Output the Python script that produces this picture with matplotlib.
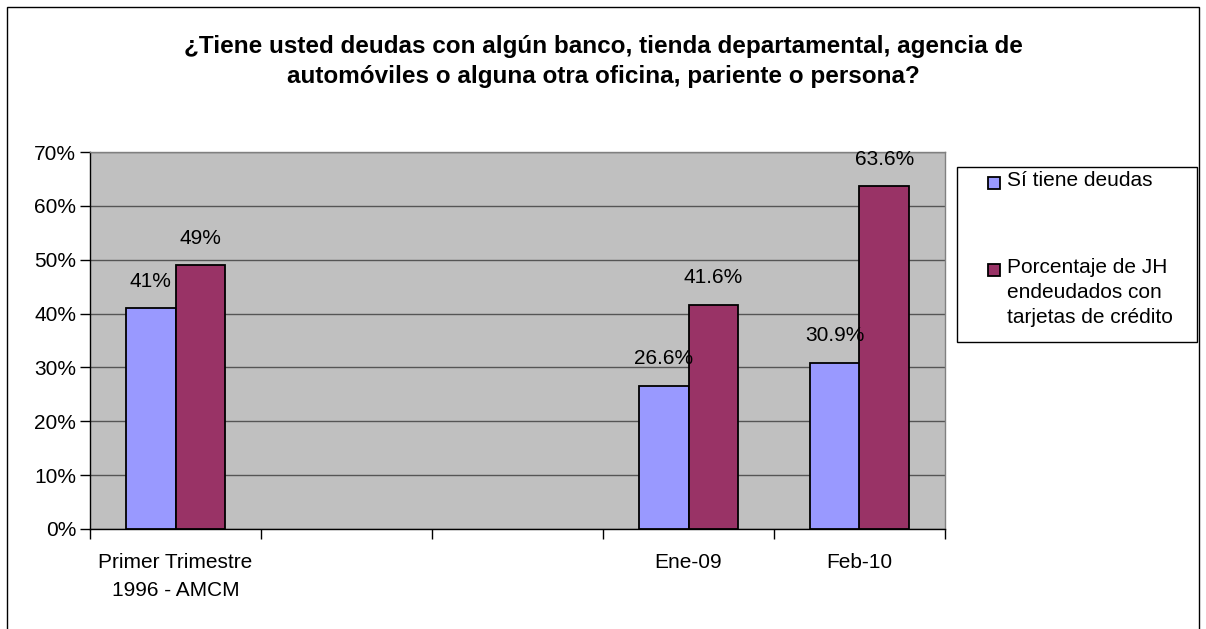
import numpy as np
import matplotlib
matplotlib.use("Agg")
import matplotlib.pyplot as plt
from matplotlib.patches import Rectangle

plt.rcParams['font.family'] = ['Liberation Sans', 'DejaVu Sans']

title = "¿Tiene usted deudas con algún banco, tienda departamental, agencia de\nautomóviles o alguna otra oficina, pariente o persona?"
categories = ["Primer Trimestre\n1996 - AMCM", "", "", "Ene-09", "Feb-10"]
series_names = ["Sí tiene deudas", "Porcentaje de JH\nendeudados con\ntarjetas de crédito"]
si_tiene = [41, np.nan, np.nan, 26.6, 30.9]
jh_tarjetas = [49, np.nan, np.nan, 41.6, 63.6]
labels_si = ["41%", "", "", "26.6%", "30.9%"]
labels_jh = ["49%", "", "", "41.6%", "63.6%"]
colors = ["#9999FF", "#993366"]
yticks = [0, 10, 20, 30, 40, 50, 60, 70]

W, H = 1206, 629
fig = plt.figure(figsize=(W / 100, H / 100), dpi=100)
fig.patch.set_facecolor("white")

ax = fig.add_axes([90 / W, 1 - 529 / H, (945 - 90) / W, (529 - 152) / H])
ax.set_facecolor("#C0C0C0")

x = np.arange(len(categories))
bw = 0.29
for vals, labs, off, col in [(si_tiene, labels_si, -bw / 2, colors[0]),
                             (jh_tarjetas, labels_jh, bw / 2, colors[1])]:
    ax.bar(x + off, vals, width=bw, color=col, edgecolor="black", linewidth=1.3, zorder=3)
    for xi, v, lab in zip(x, vals, labs):
        if lab and not np.isnan(v):
            ax.annotate(lab, (xi + off, v), xytext=(0, 19.5), textcoords="offset points",
                        ha="center", va="center", fontsize=15, color="black", zorder=4,
                        annotation_clip=False)

ax.set_xlim(-0.5, len(categories) - 0.5)
ax.set_ylim(0, 70)
ax.set_yticks(yticks)
ax.set_yticklabels([f"{t}%" for t in yticks], fontsize=15)
ax.yaxis.grid(True, color="#555555", linewidth=1.0, zorder=1)
ax.set_axisbelow(True)

ax.set_xticks(x)
ax.set_xticklabels(categories, fontsize=15, linespacing=1.6)
ax.tick_params(axis="x", length=0, pad=17)
ax.set_xticks(np.arange(-0.5, len(categories) + 0.5, 1), minor=True)
ax.tick_params(axis="x", which="minor", length=7, width=1.0, color="black")
ax.tick_params(axis="y", length=7, width=1.0, color="black", pad=3)

for s in ["left", "bottom"]:
    ax.spines[s].set_color("black")
    ax.spines[s].set_linewidth(1.0)
for s in ["top", "right"]:
    ax.spines[s].set_color("#808080")
    ax.spines[s].set_linewidth(1.0)

fig.text(603 / W, 1 - 61.5 / H, title, ha="center", va="center", fontsize=17.5,
         fontweight="bold", linespacing=1.35)

# Legend box
lx0, ly0, lx1, ly1 = 957, 167, 1197, 342
fig.patches.append(Rectangle((lx0 / W, 1 - ly1 / H), (lx1 - lx0) / W, (ly1 - ly0) / H,
                             transform=fig.transFigure, facecolor="white",
                             edgecolor="black", linewidth=1.0))
entry_y = [183, 270]
for name, col, ey in zip(series_names, colors, entry_y):
    fig.patches.append(Rectangle((988 / W, 1 - (ey + 6) / H), 12 / W, 12 / H,
                                 transform=fig.transFigure, facecolor=col,
                                 edgecolor="black", linewidth=1.3))
    fig.text(1007 / W, 1 - (ey - 12) / H, name, ha="left", va="top", fontsize=15,
             linespacing=1.4)

# Outer border (bottom edge lies outside the image)
fig.patches.append(Rectangle((7 / W, -10 / H), (1199 - 7) / W, (629 + 10 - 7) / H,
                             transform=fig.transFigure, facecolor="none",
                             edgecolor="black", linewidth=1.0))

fig.savefig("out.png", dpi=100)
